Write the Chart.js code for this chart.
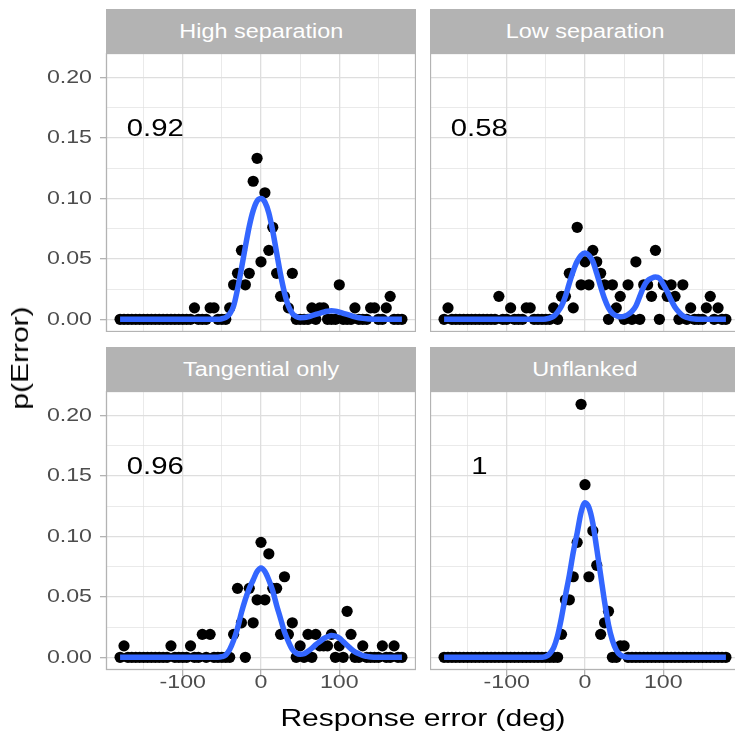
<!DOCTYPE html>
<html>
<head>
<meta charset="utf-8">
<title>p(Error) by flanker condition</title>
<script src="https://cdn.jsdelivr.net/npm/chart.js@4.4.1/dist/chart.umd.min.js"></script>
<style>
  html, body { margin: 0; padding: 0; background: #fff; }
  body {
    position: relative; width: 735px; height: 735px; overflow: hidden;
    font-family: "Liberation Sans", Arial, sans-serif;
  }
  canvas { position: absolute; }
  .strip {
    position: absolute; height: 44px; background: #b3b3b3; color: #fff;
    font-size: 19.5px; line-height: 44px; text-align: center; white-space: nowrap;
  }
  .strip span { display: inline-block; transform: scaleX(1.2); }
  .ytitle { position: absolute; left: 20px; top: 358px; width: 0; height: 0; }
  .ytitle span, .xtitle span {
    position: absolute; white-space: nowrap; font-size: 24px; line-height: 24px; color: #000;
  }
  .ytitle span { left: 0; top: 0; transform: translate(-50%, -50%) rotate(-90deg) scaleX(1.25); }
  .xtitle span { left: 423px; top: 706px; transform: translateX(-50%) scaleX(1.25); }
</style>
</head>
<body>

<div class="strip" style="left:106px; top:9px; width:310px"><span>High separation</span></div>
<div class="strip" style="left:430px; top:9px; width:310px"><span>Low separation</span></div>
<div class="strip" style="left:106px; top:347px; width:310px"><span>Tangential only</span></div>
<div class="strip" style="left:430px; top:347px; width:310px"><span>Unflanked</span></div>

<canvas id="highSep" width="416" height="279" style="left:0; top:53px"></canvas>
<canvas id="lowSep" width="310" height="279" style="left:430px; top:53px"></canvas>
<canvas id="tangential" width="416" height="324" style="left:0; top:391px"></canvas>
<canvas id="unflanked" width="310" height="324" style="left:430px; top:391px"></canvas>

<div class="ytitle"><span>p(Error)</span></div>
<div class="xtitle"><span>Response error (deg)</span></div>

<script>
/* ------------------------------------------------------------
   DATA
------------------------------------------------------------- */

// response error bins (deg)
const errorBins = [
    -180, -175, -170, -165, -160, -155, -150, -145, -140, -135, -130, -125,
    -120, -115, -110, -105, -100, -95, -90, -85, -80, -75, -70, -65,
    -60, -55, -50, -45, -40, -35, -30, -25, -20, -15, -10, -5,
    0, 5, 10, 15, 20, 25, 30, 35, 40, 45, 50, 55,
    60, 65, 70, 75, 80, 85, 90, 95, 100, 105, 110, 115,
    120, 125, 130, 135, 140, 145, 150, 155, 160, 165, 170, 175,
    180
];

// observed p(Error) per bin
const highSepP = [
    0, 0, 0, 0, 0, 0, 0, 0, 0, 0, 0, 0,
    0, 0, 0, 0, 0, 0, 0, 0.0095, 0, 0, 0, 0.0095,
    0.0095, 0, 0, 0, 0.0095, 0.0286, 0.0381, 0.0571, 0.0286, 0.0381, 0.1143, 0.1333,
    0.0476, 0.1048, 0.0571, 0.0762, 0.0381, 0.019, 0.019, 0.0095, 0.0381, 0, 0, 0,
    0, 0.0095, 0, 0.0095, 0.0095, 0, 0, 0, 0.0286, 0, 0, 0,
    0.0095, 0, 0, 0, 0.0095, 0.0095, 0, 0, 0.0095, 0.019, 0, 0,
    0
];

const lowSepP = [
    0, 0.0095, 0, 0, 0, 0, 0, 0, 0, 0, 0, 0,
    0, 0, 0.019, 0, 0, 0.0095, 0, 0, 0, 0.0095, 0.0095, 0,
    0, 0, 0, 0, 0.0095, 0, 0.019, 0.019, 0.0381, 0.0095, 0.0762, 0.0286,
    0.0476, 0.0286, 0.0571, 0.0476, 0.0381, 0.0286, 0, 0.0286, 0.0095, 0.019, 0, 0.0286,
    0, 0.0476, 0, 0.0286, 0.0286, 0.019, 0.0571, 0, 0.0286, 0.019, 0.0286, 0.019,
    0, 0.0286, 0, 0.0095, 0, 0, 0, 0.0095, 0.019, 0, 0.0095, 0,
    0
];

const tangentialP = [
    0, 0.0095, 0, 0, 0, 0, 0, 0, 0, 0, 0, 0,
    0, 0.0095, 0, 0, 0, 0, 0.0095, 0, 0, 0.019, 0, 0.019,
    0, 0, 0, 0, 0, 0.019, 0.0571, 0.0286, 0, 0.0571, 0.0286, 0.0476,
    0.0952, 0.0476, 0.0857, 0.0571, 0.0571, 0.019, 0.0667, 0.019, 0.0286, 0, 0.0095, 0,
    0.019, 0, 0.019, 0.0095, 0.0095, 0.0095, 0.019, 0, 0.0095, 0, 0.0381, 0.019,
    0, 0, 0.0095, 0, 0, 0, 0, 0.0095, 0, 0, 0.0095, 0,
    0
];

const unflankedP = [
    0, 0, 0, 0, 0, 0, 0, 0, 0, 0, 0, 0,
    0, 0, 0, 0, 0, 0, 0, 0, 0, 0, 0, 0,
    0, 0, 0, 0, 0, 0, 0.019, 0.0476, 0.0476, 0.0667, 0.0952, 0.2095,
    0.1429, 0.0667, 0.1048, 0.0762, 0.019, 0.0286, 0.0381, 0, 0, 0.0095, 0.0095, 0,
    0, 0, 0, 0, 0, 0, 0, 0, 0, 0, 0, 0,
    0, 0, 0, 0, 0, 0, 0, 0, 0, 0, 0, 0,
    0
];

// fitted mixture model, sampled along the error axis
const curveErr = [
    -180, -120,
    -60, -55, -50, -45, -40, -35, -30, -25, -20, -15, -10, -5,
    0, 5, 10, 15, 20, 25, 30, 35, 40, 45, 50, 55,
    60, 65, 70, 75, 80, 85, 90, 95, 100, 105, 110, 115,
    120, 125, 130, 135, 140, 145, 150,
    180
];

const highSepFit = [
    0, 0,
    0, 0, 0.0005, 0.0015, 0.0045, 0.011, 0.025, 0.042, 0.060, 0.077, 0.090, 0.098,
    0.100, 0.097, 0.088, 0.073, 0.055, 0.037, 0.022, 0.011, 0.005, 0.0022, 0.0014, 0.0015,
    0.002, 0.003, 0.004, 0.005, 0.006, 0.0067, 0.007, 0.0068, 0.006, 0.005, 0.004, 0.003,
    0.002, 0.0013, 0.0008, 0.0004, 0.0002, 0.0001, 0,
    0
];

const lowSepFit = [
    0, 0,
    0, 0, 0.0003, 0.001, 0.0025, 0.006, 0.011, 0.019, 0.030, 0.040, 0.048, 0.053,
    0.055, 0.053, 0.048, 0.038, 0.027, 0.017, 0.0095, 0.005, 0.003, 0.0022, 0.0025, 0.004,
    0.0065, 0.011, 0.019, 0.027, 0.032, 0.034, 0.035, 0.034, 0.029, 0.023, 0.016, 0.010,
    0.006, 0.003, 0.0015, 0.0007, 0.0003, 0.0001, 0,
    0
];

const tangentialFit = [
    0, 0,
    0, 0, 0.0005, 0.002, 0.0065, 0.014, 0.024, 0.037, 0.048, 0.057, 0.064, 0.071,
    0.074, 0.071, 0.064, 0.055, 0.043, 0.032, 0.021, 0.013, 0.0065, 0.0035, 0.0025, 0.003,
    0.005, 0.0075, 0.0105, 0.013, 0.0155, 0.017, 0.018, 0.0175, 0.016, 0.013, 0.010, 0.007,
    0.0045, 0.003, 0.0015, 0.0008, 0.0003, 0.0001, 0,
    0
];

const unflankedFit = [
    0, 0,
    0, 0.0001, 0.0007, 0.003, 0.008, 0.018, 0.033, 0.051, 0.068, 0.087, 0.103, 0.120,
    0.128, 0.124, 0.111, 0.090, 0.068, 0.046, 0.027, 0.014, 0.006, 0.002, 0.0006, 0.0001,
    0, 0, 0, 0, 0, 0, 0, 0, 0, 0, 0, 0,
    0, 0, 0, 0, 0, 0, 0,
    0
];

// proportion of target responses, printed in each panel
const targetShare = ["0.92", "0.58", "0.96", "1"];

// axes
const errorMin = -198;
const errorMax = 198;
const pMin = -0.0105;
const pMax = 0.2205;


/* ------------------------------------------------------------
   PLUGINS
------------------------------------------------------------- */

const FONT = "'Liberation Sans', Arial, sans-serif";

// wide sans look: every text call is stretched a little horizontally
const wideText = {
    id: "wideText",
    beforeDraw(chart) {
        const ctx = chart.ctx;
        if (ctx.wideText) return;
        const fill = ctx.fillText.bind(ctx);
        ctx.fillText = (text, x, y) => {
            ctx.save();
            ctx.translate(x, y);
            ctx.scale(1.22, 1);
            fill(text, 0, 0);
            ctx.restore();
        };
        ctx.wideText = true;
    }
};

// share label + grey panel frame
const panelDecor = {
    id: "panelDecor",
    afterDatasetsDraw(chart, args, opts) {
        const { ctx, scales } = chart;
        ctx.save();
        ctx.font = "24px " + FONT;
        ctx.fillStyle = "#000";
        ctx.textAlign = "center";
        ctx.textBaseline = "middle";
        ctx.fillText(opts.text, scales.x.getPixelForValue(-135), scales.y.getPixelForValue(0.157));
        ctx.restore();
    },
    afterDraw(chart) {
        const { ctx, chartArea: a } = chart;
        ctx.save();
        ctx.strokeStyle = "#b3b3b3";
        ctx.lineWidth = 1.3;
        ctx.strokeRect(a.left + 0.5, a.top + 0.5, a.right - a.left - 1, a.bottom - a.top - 1);
        ctx.restore();
    }
};


/* ------------------------------------------------------------
   PANELS
------------------------------------------------------------- */

const isMajorErr = v => v % 100 === 0;
const isMajorP = v => Math.round(v * 1000) % 50 === 0;

function makePanel(id, pValues, fitValues, share, leftAxis, bottomAxis) {
    const points = errorBins.map((e, i) => ({ x: e, y: pValues[i] }));
    const fit = curveErr.map((e, i) => ({ x: e, y: fitValues[i] }));

    new Chart(document.getElementById(id), {
        type: "scatter",
        data: {
            datasets: [
                {
                    data: fit,
                    showLine: true,
                    borderColor: "#3366ff",
                    borderWidth: 5.5,
                    borderCapStyle: "butt",
                    cubicInterpolationMode: "monotone",
                    pointRadius: 0,
                    order: 0
                },
                {
                    data: points,
                    backgroundColor: "#000",
                    borderWidth: 0,
                    pointRadius: 5.6,
                    order: 1
                }
            ]
        },
        options: {
            responsive: false,
            animation: false,
            events: [],
            layout: { padding: 0, autoPadding: false },
            plugins: {
                legend: { display: false },
                tooltip: { enabled: false },
                panelDecor: { text: share }
            },
            scales: {
                x: {
                    type: "linear",
                    min: errorMin,
                    max: errorMax,
                    border: { display: false },
                    grid: {
                        color: "#dedede",
                        lineWidth: c => (c.tick && isMajorErr(c.tick.value) ? 1.3 : 0.65),
                        drawTicks: bottomAxis,
                        tickLength: 6,
                        tickWidth: 1.3,
                        tickColor: c => (c.tick && isMajorErr(c.tick.value) ? "#b3b3b3" : "rgba(0,0,0,0)")
                    },
                    ticks: {
                        display: bottomAxis,
                        stepSize: 50,
                        includeBounds: false,
                        autoSkip: false,
                        maxRotation: 0,
                        padding: -5,
                        color: "#4d4d4d",
                        font: { family: FONT, size: 19 },
                        callback: v => (isMajorErr(v) ? String(v) : "")
                    },
                    afterFit: s => {
                        s.height = bottomAxis ? 45 : 0;
                        s.paddingLeft = 0;
                        s.paddingRight = 0;
                    }
                },
                y: {
                    type: "linear",
                    min: pMin,
                    max: pMax,
                    border: { display: false },
                    grid: {
                        color: "#dedede",
                        lineWidth: c => (c.tick && isMajorP(c.tick.value) ? 1.3 : 0.65),
                        drawTicks: leftAxis,
                        tickLength: 6,
                        tickWidth: 1.3,
                        tickColor: c => (c.tick && isMajorP(c.tick.value) ? "#b3b3b3" : "rgba(0,0,0,0)")
                    },
                    ticks: {
                        display: leftAxis,
                        stepSize: 0.025,
                        includeBounds: false,
                        autoSkip: false,
                        padding: 8,
                        color: "#4d4d4d",
                        font: { family: FONT, size: 19 },
                        callback: v => (isMajorP(v) ? v.toFixed(2) : "")
                    },
                    afterFit: s => {
                        s.width = leftAxis ? 106 : 0;
                        s.paddingTop = 0;
                        s.paddingBottom = 0;
                    }
                }
            }
        },
        plugins: [wideText, panelDecor]
    });
}

makePanel("highSep", highSepP, highSepFit, targetShare[0], true, false);
makePanel("lowSep", lowSepP, lowSepFit, targetShare[1], false, false);
makePanel("tangential", tangentialP, tangentialFit, targetShare[2], true, true);
makePanel("unflanked", unflankedP, unflankedFit, targetShare[3], false, true);
</script>
</body>
</html>
